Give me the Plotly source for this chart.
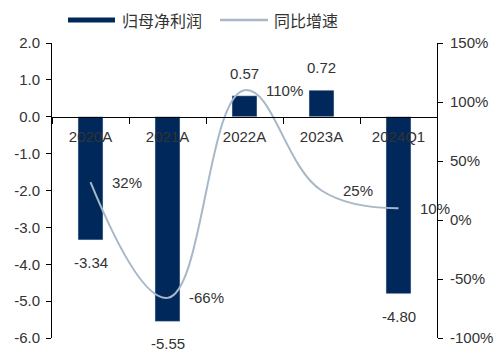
import plotly.graph_objects as go

categories = ["2020A", "2021A", "2022A", "2023A", "2024Q1"]
profit = [-3.34, -5.55, 0.57, 0.72, -4.80]
growth = [32, -66, 110, 25, 10]
profit_labels = ["-3.34", "-5.55", "0.57", "0.72", "-4.80"]
growth_labels = ["32%", "-66%", "110%", "25%", "10%"]
left_ticks = [2, 1, 0, -1, -2, -3, -4, -5, -6]
left_ticktext = ["2.0", "1.0", "0.0", "-1.0", "-2.0", "-3.0", "-4.0", "-5.0", "-6.0"]
right_ticks = [150, 100, 50, 0, -50, -100]
right_ticktext = ["150%", "100%", "50%", "0%", "-50%", "-100%"]

BAR = "#00285A"
LINE = "#A7B8C9"
TXT = "#333333"
FONT = "Liberation Sans, Arial, sans-serif"
CJK = "Noto Sans CJK SC, sans-serif"

fig = go.Figure()
fig.add_trace(go.Bar(x=categories, y=profit, marker_color=BAR, name="归母净利润",
                     showlegend=False))
fig.add_trace(go.Scatter(x=categories, y=growth, yaxis="y2", mode="lines",
                         line=dict(color=LINE, width=2, shape="spline", smoothing=1.2),
                         name="同比增速", showlegend=False))

ann = []
for c, v, t in zip(categories, profit, profit_labels):
    ann.append(dict(x=c, y=v, xref="x", yref="y", text=t, showarrow=False,
                    yanchor="bottom" if v >= 0 else "top",
                    yshift=12 if v >= 0 else -12,
                    font=dict(size=15, color=TXT, family=FONT)))
for c, v, t in zip(categories, growth, growth_labels):
    ann.append(dict(x=c, y=v, xref="x", yref="y2", text=t, showarrow=False,
                    xanchor="left", yanchor="middle", xshift=19,
                    font=dict(size=15, color=TXT, family=FONT)))
# legend
ann.append(dict(x=0.1766, y=1.078, xref="paper", yref="paper", text="归母净利润",
                showarrow=False, xanchor="left", yanchor="middle",
                font=dict(size=16, color=TXT, family=CJK)))
ann.append(dict(x=0.5714, y=1.078, xref="paper", yref="paper", text="同比增速",
                showarrow=False, xanchor="left", yanchor="middle",
                font=dict(size=16, color=TXT, family=CJK)))
shapes = [
    dict(type="rect", xref="paper", yref="paper", x0=0.0416, x1=0.1636,
         y0=1.0695, y1=1.0865, fillcolor=BAR, line=dict(width=0)),
    dict(type="line", xref="paper", yref="paper", x0=0.4364, x1=0.561,
         y0=1.078, y1=1.078, line=dict(color=LINE, width=2.5)),
]

fig.update_layout(
    width=500, height=349,
    margin=dict(l=52, r=63, t=43, b=11, autoexpand=False),
    paper_bgcolor="white", plot_bgcolor="white",
    bargap=0.675,
    font=dict(family=FONT, size=15, color=TXT),
    annotations=ann, shapes=shapes,
    xaxis=dict(type="category", anchor="free", position=0.75, showline=True,
               range=[-0.5, len(categories) - 0.5],
               linecolor="black", linewidth=1, ticks="outside", tickson="boundaries",
               ticklen=6, tickcolor="black", showgrid=False, zeroline=False,
               ticklabelstandoff=6,
               automargin=False, tickfont=dict(size=15, color=TXT)),
    yaxis=dict(range=[-6, 2], tickvals=left_ticks, ticktext=left_ticktext,
               showline=True, linecolor="black", linewidth=1, ticks="outside",
               ticklen=5, tickcolor="black", showgrid=False, zeroline=False,
               ticklabelstandoff=3,
               automargin=False, tickfont=dict(size=15, color=TXT)),
    yaxis2=dict(range=[-100, 150], tickvals=right_ticks, ticktext=right_ticktext,
                overlaying="y", side="right", showline=True, linecolor="black",
                linewidth=1, ticks="outside", ticklen=5, tickcolor="black",
                showgrid=False, zeroline=False, automargin=False,
                ticklabelstandoff=4,
                tickfont=dict(size=15, color=TXT)),
)

fig.write_html("out.html", config={"displayModeBar": False},
               post_script="document.body.style.margin='0';document.body.style.overflow='hidden';")
